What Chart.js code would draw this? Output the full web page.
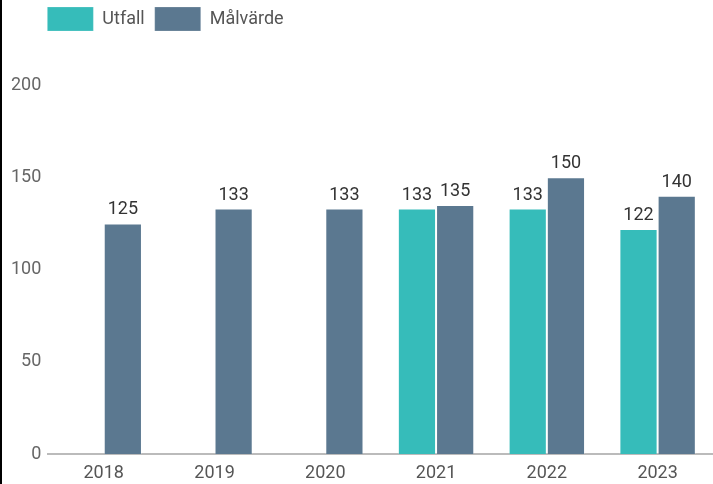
<!DOCTYPE html>
<html>
<head>
<meta charset="utf-8">
<script src="https://cdn.jsdelivr.net/npm/chart.js@4.4.1/dist/chart.umd.min.js"></script>
<style>
    html, body { margin: 0; padding: 0; background: #fff; }
    body { width: 713px; height: 484px; overflow: hidden; }
    .wrap { position: absolute; left: 0; top: 0; width: 713px; height: 484px; border-left: 2px solid #000; box-sizing: border-box; }
</style>
</head>
<body>
<div class="wrap"><canvas id="chart"></canvas></div>
<script>
// Data
const years = ['2018', '2019', '2020', '2021', '2022', '2023'];
const utfall = [null, null, null, 133, 133, 122];
const malvarde = [125, 133, 133, 135, 150, 140];
const yTicks = [0, 50, 100, 150, 200];

const font = 'Roboto, "Noto Sans", sans-serif';

// Value labels above each bar
const barLabels = {
    id: 'barLabels',
    afterDatasetsDraw(chart) {
        const c = chart.ctx;
        c.save();
        c.font = '18px ' + font;
        c.fillStyle = '#333';
        c.textAlign = 'center';
        c.textBaseline = 'alphabetic';
        chart.data.datasets.forEach((ds, i) => {
            chart.getDatasetMeta(i).data.forEach((bar, j) => {
                const v = ds.data[j];
                if (v === null) return;
                c.fillText(String(v), bar.x, bar.y - 9);
            });
        });
        c.restore();
    }
};

// Legend sits flush with the plot area and near the top edge
const legendShift = {
    id: 'legendShift',
    afterLayout(chart) {
        chart.legend.left = chart.chartArea.left - 11;
        chart.legend.top = -3;
    }
};

new Chart(document.getElementById('chart'), {
    type: 'bar',
    data: {
        labels: years,
        datasets: [
            { label: 'Utfall', data: utfall, backgroundColor: '#36bcba', borderColor: 'rgba(255,255,255,0.2)', borderWidth: 1 },
            { label: 'Målvärde', data: malvarde, backgroundColor: '#5b7890', borderColor: 'rgba(255,255,255,0.2)', borderWidth: 1 }
        ]
    },
    options: {
        responsive: true,
        maintainAspectRatio: false,
        animation: false,
        categoryPercentage: 0.69,
        barPercentage: 1,
        layout: { padding: { left: 2, top: 41, bottom: 0, right: 0 } },
        plugins: {
            legend: {
                position: 'top',
                align: 'start',
                labels: {
                    boxWidth: 46,
                    boxHeight: 24,
                    padding: 10,
                    color: '#555',
                    font: { family: font, size: 18 }
                }
            },
            tooltip: { enabled: false }
        },
        scales: {
            x: {
                afterFit(axis) { axis.height = 30; },
                grid: { display: false, drawTicks: false },
                border: { display: true, color: '#bbb', width: 2 },
                ticks: { color: '#555', padding: 9, font: { family: font, size: 18 } }
            },
            y: {
                min: 0,
                max: 200,
                afterBuildTicks(axis) { axis.ticks = yTicks.map(v => ({ value: v })); },
                grid: { display: false, drawTicks: false },
                border: { display: false },
                ticks: { color: '#666', padding: 7, font: { family: font, size: 18 } }
            }
        }
    },
    plugins: [barLabels, legendShift]
});
</script>
</body>
</html>
